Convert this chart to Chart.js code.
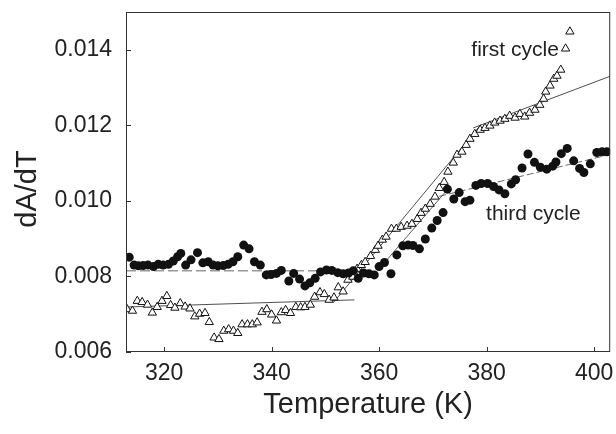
<!DOCTYPE html>
<html>
<head>
<meta charset="utf-8">
<script src="https://cdn.jsdelivr.net/npm/chart.js@4.4.1/dist/chart.umd.min.js"></script>
<style>
  html, body { margin: 0; padding: 0; background: #fff; }
  #wrap { width: 616px; height: 434px; }
</style>
</head>
<body>
<div id="wrap"><canvas id="chart" width="616" height="434"></canvas></div>
<script>
// first cycle (open triangles)
const firstT = [313.1, 314.1, 315.0, 315.9, 316.9, 317.8, 318.7, 319.6, 320.5, 321.2, 322.0, 323.0, 323.9, 324.8, 325.7, 326.6, 327.6, 328.4, 329.3, 330.2,
  331.1, 332.0, 332.9, 333.7, 334.5, 335.5, 336.4, 337.3, 338.2, 339.1, 340.0, 340.9, 341.8, 342.6, 343.5, 344.5, 345.4, 346.2, 347.2, 348.0,
  349.0, 349.8, 350.7, 351.6, 352.4, 353.3, 354.2, 355.1, 355.9, 356.7, 357.4, 358.4, 359.3, 359.8, 360.6, 361.3, 362.3, 363.2, 364.1, 365.2,
  366.1, 367.1, 367.8, 368.6, 369.5, 370.4, 371.2, 372.1, 372.8, 373.8, 374.5, 375.4, 376.2, 376.9, 377.8, 378.8, 379.7, 380.6, 381.5, 382.5,
  383.4, 384.3, 385.3, 386.2, 387.1, 388.0, 389.0, 389.9, 390.6, 391.0, 391.8, 392.5, 393.1, 393.8, 394.7, 395.5];
const firstA = [0.00713, 0.00709, 0.00735, 0.00732, 0.00725, 0.00704, 0.00719, 0.00735, 0.00748, 0.00724, 0.00717, 0.00729, 0.00720, 0.00715, 0.00694, 0.00701, 0.00703, 0.00679, 0.00638, 0.00634,
  0.00656, 0.00660, 0.00656, 0.00650, 0.00673, 0.00673, 0.00673, 0.00678, 0.00706, 0.00713, 0.00699, 0.00683, 0.00705, 0.00711, 0.00703, 0.00719, 0.00718, 0.00719, 0.00725, 0.00746,
  0.00758, 0.00753, 0.00738, 0.00744, 0.00771, 0.00760, 0.00791, 0.00799, 0.00820, 0.00830, 0.00838, 0.00854, 0.00870, 0.00881, 0.00897, 0.00905, 0.00926, 0.00926, 0.00931, 0.00934,
  0.00939, 0.00952, 0.00968, 0.00979, 0.00992, 0.01011, 0.01034, 0.01050, 0.01077, 0.01101, 0.01122, 0.01130, 0.01148, 0.01164, 0.01177, 0.01188, 0.01193, 0.01199, 0.01207, 0.01212,
  0.01217, 0.01225, 0.01220, 0.01230, 0.01223, 0.01233, 0.01241, 0.01254, 0.01270, 0.01289, 0.01305, 0.01323, 0.01331, 0.01347, 0.01403, 0.01448];

// third cycle (filled circles)
const thirdT = [313.5, 314.4, 315.2, 316.1, 317.0, 318.0, 318.9, 319.8, 320.8, 321.7, 322.5, 323.1, 324.0, 325.0, 326.2, 327.2, 328.2, 329.1, 330.0, 331.0,
  331.9, 332.8, 333.7, 334.8, 335.8, 336.8, 337.9, 339.0, 339.9, 340.9, 341.8, 343.2, 344.1, 345.2, 346.2, 347.1, 348.1, 349.1, 350.2, 351.2,
  352.3, 353.3, 354.3, 355.2, 356.1, 357.1, 358.1, 359.1, 360.0, 361.0, 362.2, 363.3, 364.4, 365.4, 366.3, 367.5, 368.6, 369.8, 370.8, 371.9,
  372.7, 373.9, 374.9, 376.0, 376.9, 378.0, 379.0, 380.2, 381.3, 382.3, 383.4, 384.6, 385.4, 386.6, 387.7, 388.9, 390.0, 391.2, 392.3, 392.9,
  393.9, 395.0, 396.2, 397.3, 398.1, 399.3, 400.5, 401.5, 402.4];
const thirdA = [0.00851, 0.00830, 0.00828, 0.00829, 0.00830, 0.00826, 0.00832, 0.00830, 0.00832, 0.00841, 0.00852, 0.00861, 0.00830, 0.00844, 0.00863, 0.00836, 0.00839, 0.00830, 0.00828, 0.00829,
  0.00832, 0.00839, 0.00852, 0.00883, 0.00873, 0.00839, 0.00830, 0.00804, 0.00805, 0.00808, 0.00816, 0.00788, 0.00808, 0.00793, 0.00775, 0.00783, 0.00795, 0.00812, 0.00817, 0.00816,
  0.00810, 0.00807, 0.00809, 0.00815, 0.00795, 0.00809, 0.00807, 0.00804, 0.00826, 0.00837, 0.00807, 0.00857, 0.00881, 0.00883, 0.00882, 0.00873, 0.00899, 0.00928, 0.00948, 0.00969,
  0.01031, 0.01005, 0.01022, 0.00998, 0.01002, 0.01041, 0.01046, 0.01046, 0.01038, 0.01029, 0.01019, 0.01045, 0.01056, 0.01087, 0.01124, 0.01102, 0.01089, 0.01084, 0.01092, 0.01103,
  0.01125, 0.01139, 0.01106, 0.01086, 0.01075, 0.01098, 0.01128, 0.01130, 0.01130];

// fitted straight segments (end points)
const fitFirstLowT = [312.9, 355.4];
const fitFirstLowA = [0.00719, 0.00738];
const fitFirstRiseT = [351.5, 379.0];
const fitFirstRiseA = [0.00731, 0.01203];
const fitFirstHighT = [377.5, 403.0];
const fitFirstHighA = [0.01193, 0.01330];
const fitThirdLowT = [312.9, 356.3];
const fitThirdLowA = [0.00815, 0.00815];
const fitThirdRiseT = [360.0, 372.3];
const fitThirdRiseA = [0.00820, 0.01023];
const fitThirdHighT = [371.2, 403.0];
const fitThirdHighA = [0.01012, 0.01123];

const xTicks = [320, 340, 360, 380, 400];
const yTicks = [0.006, 0.008, 0.010, 0.012, 0.014];
const xMin = 312.9, xMax = 403.0;
const yMin = 0.006, yMax = 0.015;

const labels = [
    { text: 'first cycle', t: 385.3, a: 0.01384 },
    { text: 'third cycle', t: 388.7, a: 0.00950 }
];
const yTitle = 'dA/dT';

const FONT = "'Liberation Sans', Arial, Helvetica, sans-serif";

function pts(xs, ys) {
    return xs.map((x, i) => ({ x: x, y: ys[i] }));
}

function fitLine(xs, ys, color, width, dash) {
    return {
        data: pts(xs, ys),
        showLine: true,
        borderColor: color,
        borderWidth: width,
        borderDash: dash,
        pointRadius: 0,
        fill: false,
        order: 2
    };
}

// box, inward ticks, y title and in-plot labels
const framePlugin = {
    id: 'frame',
    afterDatasetsDraw(chart) {
        const { ctx, chartArea: a, scales } = chart;
        ctx.save();
        ctx.strokeStyle = '#333';
        ctx.lineWidth = 1;
        ctx.strokeRect(a.left + 0.5, a.top + 0.5, a.right - a.left - 1, a.bottom - a.top - 1);
        ctx.beginPath();
        xTicks.forEach(v => {
            const px = Math.round(scales.x.getPixelForValue(v)) + 0.5;
            ctx.moveTo(px, a.bottom);
            ctx.lineTo(px, a.bottom - 5);
        });
        yTicks.forEach(v => {
            const py = Math.round(scales.y.getPixelForValue(v)) + 0.5;
            ctx.moveTo(a.left, py);
            ctx.lineTo(a.left + 5, py);
        });
        ctx.stroke();

        ctx.fillStyle = '#222';
        ctx.font = '21px ' + FONT;
        ctx.textAlign = 'center';
        ctx.textBaseline = 'alphabetic';
        labels.forEach(l => {
            ctx.fillText(l.text, scales.x.getPixelForValue(l.t), scales.y.getPixelForValue(l.a));
        });

        // y axis title, rotated, a little below the plot middle as in the original
        ctx.translate(28, (a.top + a.bottom) / 2 + 7);
        ctx.rotate(-Math.PI / 2);
        ctx.font = '29px ' + FONT;
        ctx.textBaseline = 'middle';
        ctx.fillText(yTitle, 0, 0);
        ctx.restore();
    }
};

new Chart(document.getElementById('chart'), {
    type: 'scatter',
    data: {
        datasets: [
            {
                label: 'first cycle',
                data: pts(firstT, firstA),
                pointStyle: 'triangle',
                pointRadius: 4.8,
                pointBackgroundColor: '#fff',
                pointBorderColor: '#111',
                pointBorderWidth: 1,
                order: 1
            },
            {
                label: 'third cycle',
                data: pts(thirdT, thirdA),
                pointStyle: 'circle',
                pointRadius: 4.5,
                pointBackgroundColor: '#111',
                pointBorderColor: '#111',
                pointBorderWidth: 0,
                order: 0
            },
            fitLine(fitFirstLowT, fitFirstLowA, '#222', 0.8, []),
            fitLine(fitFirstRiseT, fitFirstRiseA, '#222', 0.8, []),
            fitLine(fitFirstHighT, fitFirstHighA, '#222', 0.8, []),
            fitLine(fitThirdLowT, fitThirdLowA, '#999', 1.6, [10, 4]),
            fitLine(fitThirdRiseT, fitThirdRiseA, '#333', 0.8, []),
            fitLine(fitThirdHighT, fitThirdHighA, '#444', 0.8, [7, 3])
        ]
    },
    options: {
        responsive: false,
        animation: false,
        devicePixelRatio: 1,
        layout: { padding: { left: 0, top: 12, right: 4, bottom: 0 } },
        plugins: {
            legend: { display: false },
            tooltip: { enabled: false }
        },
        scales: {
            x: {
                type: 'linear',
                min: xMin,
                max: xMax,
                afterBuildTicks: s => { s.ticks = xTicks.map(v => ({ value: v })); },
                afterFit: s => { s.height = 82; s.paddingLeft = 0; s.paddingRight = 0; },
                grid: { display: false },
                border: { display: false },
                ticks: {
                    color: '#222',
                    font: { family: FONT, size: 23 },
                    padding: 0,
                    maxRotation: 0,
                    callback: v => String(v)
                },
                title: {
                    display: true,
                    text: 'Temperature (K)',
                    color: '#222',
                    font: { family: FONT, size: 29 },
                    padding: { top: 0, bottom: 12 }
                }
            },
            y: {
                type: 'linear',
                min: yMin,
                max: yMax,
                afterBuildTicks: s => { s.ticks = yTicks.map(v => ({ value: v })); },
                afterFit: s => { s.width = 126; s.paddingTop = 0; s.paddingBottom = 0; },
                grid: { display: false },
                border: { display: false },
                ticks: {
                    color: '#222',
                    font: { family: FONT, size: 23 },
                    padding: 6,
                    callback: v => v.toFixed(3)
                },
                title: { display: false }
            }
        }
    },
    plugins: [framePlugin]
});
</script>
</body>
</html>
